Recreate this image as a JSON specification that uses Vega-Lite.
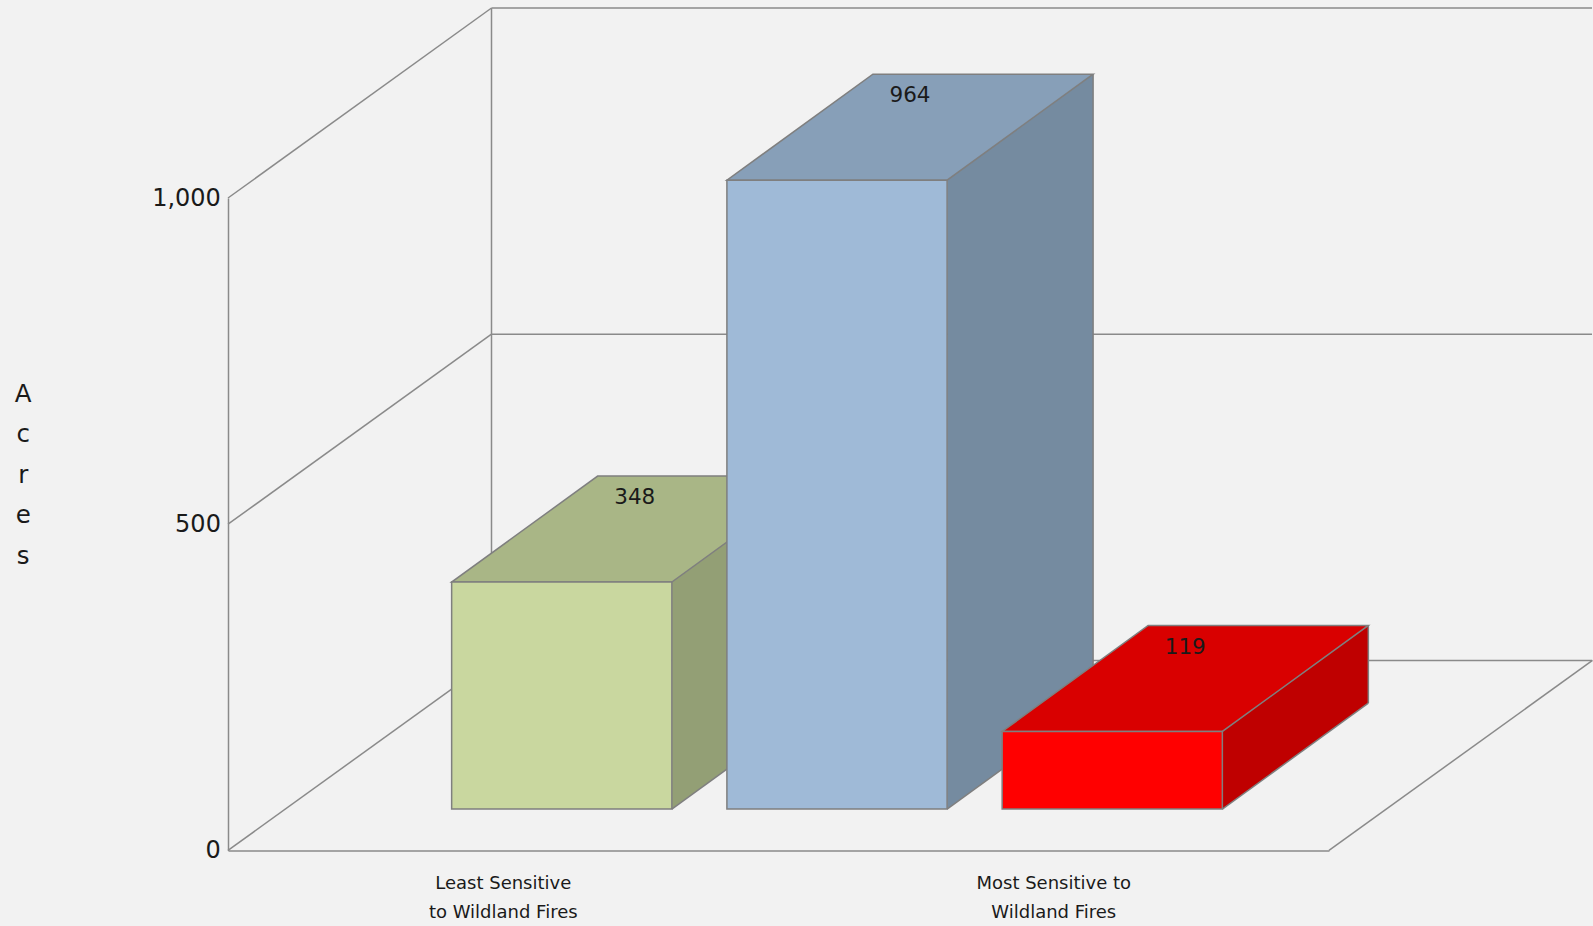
{
  "$schema": "https://vega.github.io/schema/vega-lite/v6.json",
  "width": 1101,
  "height": 652.4,
  "autosize": {"type": "none"},
  "padding": {"left": 228, "top": 198, "right": 264, "bottom": 75.6},
  "background": "#f2f2f2",
  "config": {"view": {"stroke": null}, "font": "DejaVu Sans"},
  "datasets": {
    "acres": [
      {"category": "Least Sensitive to Wildland Fires", "acres": 348},
      {"category": "Moderately Sensitive to Wildland Fires", "acres": 964},
      {"category": "Most Sensitive to Wildland Fires", "acres": 119}
    ],
    "grid": [{"v": 0}, {"v": 500}, {"v": 1000}]
  },
  "resolve": {"scale": {"x": "independent", "color": "independent"}, "axis": {"x": "independent", "y": "independent"}},
  "layer": [
    {
      "data": {"name": "grid"},
      "resolve": {"axis": {"y": "independent"}},
      "layer": [
        {
          "mark": {"type": "rule", "color": "#8a8a8a", "strokeWidth": 1.5, "x2Offset": 263.5, "y2Offset": -190},
          "encoding": {
            "x": {"datum": 0, "type": "quantitative", "scale": {"domain": [0, 1], "nice": false, "zero": false}, "axis": null},
            "x2": {"datum": 0},
            "y": {
              "field": "v",
              "type": "quantitative",
              "scale": {"domain": [0, 1000], "nice": false},
              "axis": {
                "orient": "left",
                "values": [0, 500, 1000],
                "format": ",.0f",
                "grid": false,
                "domain": true,
                "domainColor": "#8a8a8a",
                "domainWidth": 1.5,
                "ticks": false,
                "labelPadding": 7.6,
                "labelFontSize": 24,
                "labelColor": "#1a1a1a",
                "title": ["A", "c", "r", "e", "s"],
                "titleAngle": 0,
                "titleFontSize": 24.5,
                "titleFontWeight": "normal",
                "titleColor": "#1a1a1a",
                "titleLineHeight": 40.6,
                "titleAlign": "center",
                "titleBaseline": "top",
                "titleX": -205.3,
                "titleY": 184.1
              }
            },
            "y2": {"field": "v"}
          }
        },
        {
          "mark": {"type": "rule", "color": "#8a8a8a", "strokeWidth": 1.5, "xOffset": 263.5, "x2Offset": 263, "yOffset": -190},
          "encoding": {
            "x": {"datum": 0, "type": "quantitative", "scale": {"domain": [0, 1], "nice": false, "zero": false}, "axis": null},
            "x2": {"datum": 1},
            "y": {"field": "v", "type": "quantitative", "scale": {"domain": [0, 1000], "nice": false}, "axis": null}
          }
        },
        {
          "transform": [{"filter": "datum.v == 0"}],
          "mark": {"type": "rule", "color": "#8a8a8a", "strokeWidth": 1.5, "xOffset": 263.5, "yOffset": -190, "y2Offset": -190},
          "encoding": {
            "x": {"datum": 0, "type": "quantitative", "scale": {"domain": [0, 1], "nice": false, "zero": false}, "axis": null},
            "y": {"datum": 0, "type": "quantitative", "scale": {"domain": [0, 1000], "nice": false}, "axis": null},
            "y2": {"datum": 1000}
          }
        },
        {
          "transform": [{"filter": "datum.v == 0"}],
          "mark": {"type": "rule", "color": "#8a8a8a", "strokeWidth": 1.5, "x2Offset": 263.5, "y2Offset": -190},
          "encoding": {
            "x": {"datum": 1, "type": "quantitative", "scale": {"domain": [0, 1], "nice": false, "zero": false}, "axis": null},
            "x2": {"datum": 1},
            "y": {"field": "v", "type": "quantitative", "scale": {"domain": [0, 1000], "nice": false}, "axis": null},
            "y2": {"field": "v"}
          }
        }
      ]
    },
    {
      "data": {"name": "acres"},
      "encoding": {
        "x": {
          "field": "category",
          "type": "nominal",
          "sort": null,
          "scale": {"type": "band", "paddingInner": 0.2, "paddingOuter": 0.6},
          "axis": {
            "title": null,
            "domain": true,
            "domainColor": "#8a8a8a",
            "domainWidth": 1.5,
            "ticks": false,
            "labelAngle": 0,
            "labelPadding": 23.6,
            "labelFontSize": 18,
            "labelLineHeight": 29,
            "labelColor": "#1a1a1a",
            "labelLimit": 0,
            "labelOverlap": false,
            "labelExpr": "datum.value == 'Least Sensitive to Wildland Fires' ? ['Least Sensitive', 'to Wildland Fires'] : datum.value == 'Most Sensitive to Wildland Fires' ? ['Most Sensitive to', 'Wildland Fires'] : ''"
          }
        },
        "y": {
          "field": "acres",
          "type": "quantitative",
          "scale": {"domain": [0, 1000], "nice": false},
          "axis": null
        }
      },
      "resolve": {"scale": {"color": "independent"}, "axis": {"y": "independent"}},
      "layer": [
        {
          "mark": {"type": "rule", "strokeWidth": 146, "strokeCap": "butt", "xOffset": 241.6, "yOffset": -147.3, "y2Offset": -147.3},
          "encoding": {
            "y2": {"datum": 0},
            "color": {"field": "category", "type": "nominal", "legend": null,
              "scale": {"domain": ["Least Sensitive to Wildland Fires", "Moderately Sensitive to Wildland Fires", "Most Sensitive to Wildland Fires"], "range": ["#939f75", "#758ba0", "#bf0000"]}}
          }
        },
        {
          "mark": {"type": "point", "filled": true, "opacity": 1, "size": 4, "strokeWidth": 0, "shape": "M0,0L146,-106L146,-107L0,-107Z", "xOffset": 168.6, "yOffset": -41.3},
          "encoding": {
            "y": {"datum": 0, "type": "quantitative", "axis": null},
            "color": {"field": "category", "type": "nominal", "legend": null,
              "scale": {"domain": ["Least Sensitive to Wildland Fires", "Moderately Sensitive to Wildland Fires", "Most Sensitive to Wildland Fires"], "range": ["#939f75", "#758ba0", "#bf0000"]}}
          }
        },
        {
          "mark": {"type": "rule", "color": "#7f7f7f", "strokeWidth": 1.5, "xOffset": 314.6, "yOffset": -147.3, "y2Offset": -147.3},
          "encoding": {"y2": {"datum": 0}}
        },
        {
          "mark": {"type": "point", "filled": false, "opacity": 1, "size": 4, "color": "#7f7f7f", "strokeWidth": 1.5, "shape": "M0,0L146,-106", "xOffset": 168.6, "yOffset": -41.3},
          "encoding": {"y": {"datum": 0, "type": "quantitative", "axis": null}}
        },
        {
          "mark": {"type": "point", "filled": true, "opacity": 1, "size": 4, "stroke": "#7f7f7f", "strokeWidth": 1.5, "shape": "M-110.1,0L110.1,0L256.1,-106L35.9,-106Z", "xOffset": 58.5, "yOffset": -41.3},
          "encoding": {
            "color": {"field": "category", "type": "nominal", "legend": null,
              "scale": {"domain": ["Least Sensitive to Wildland Fires", "Moderately Sensitive to Wildland Fires", "Most Sensitive to Wildland Fires"], "range": ["#a9b686", "#879fb8", "#d90000"]}}
          }
        },
        {
          "mark": {"type": "bar", "stroke": "#7f7f7f", "strokeWidth": 1.5, "xOffset": 58.5, "yOffset": -41.3, "y2Offset": -41.3},
          "encoding": {
            "y2": {"datum": 0},
            "color": {"field": "category", "type": "nominal", "legend": null,
              "scale": {"domain": ["Least Sensitive to Wildland Fires", "Moderately Sensitive to Wildland Fires", "Most Sensitive to Wildland Fires"], "range": ["#c9d79f", "#9fbad7", "#ff0000"]}}
          }
        },
        {
          "mark": {"type": "text", "fontSize": 21.5, "color": "#1a1a1a", "baseline": "middle", "align": "center", "xOffset": 131.5, "yOffset": -125.2},
          "encoding": {"text": {"field": "acres", "type": "quantitative", "format": ","}}
        }
      ]
    }
  ]
}
